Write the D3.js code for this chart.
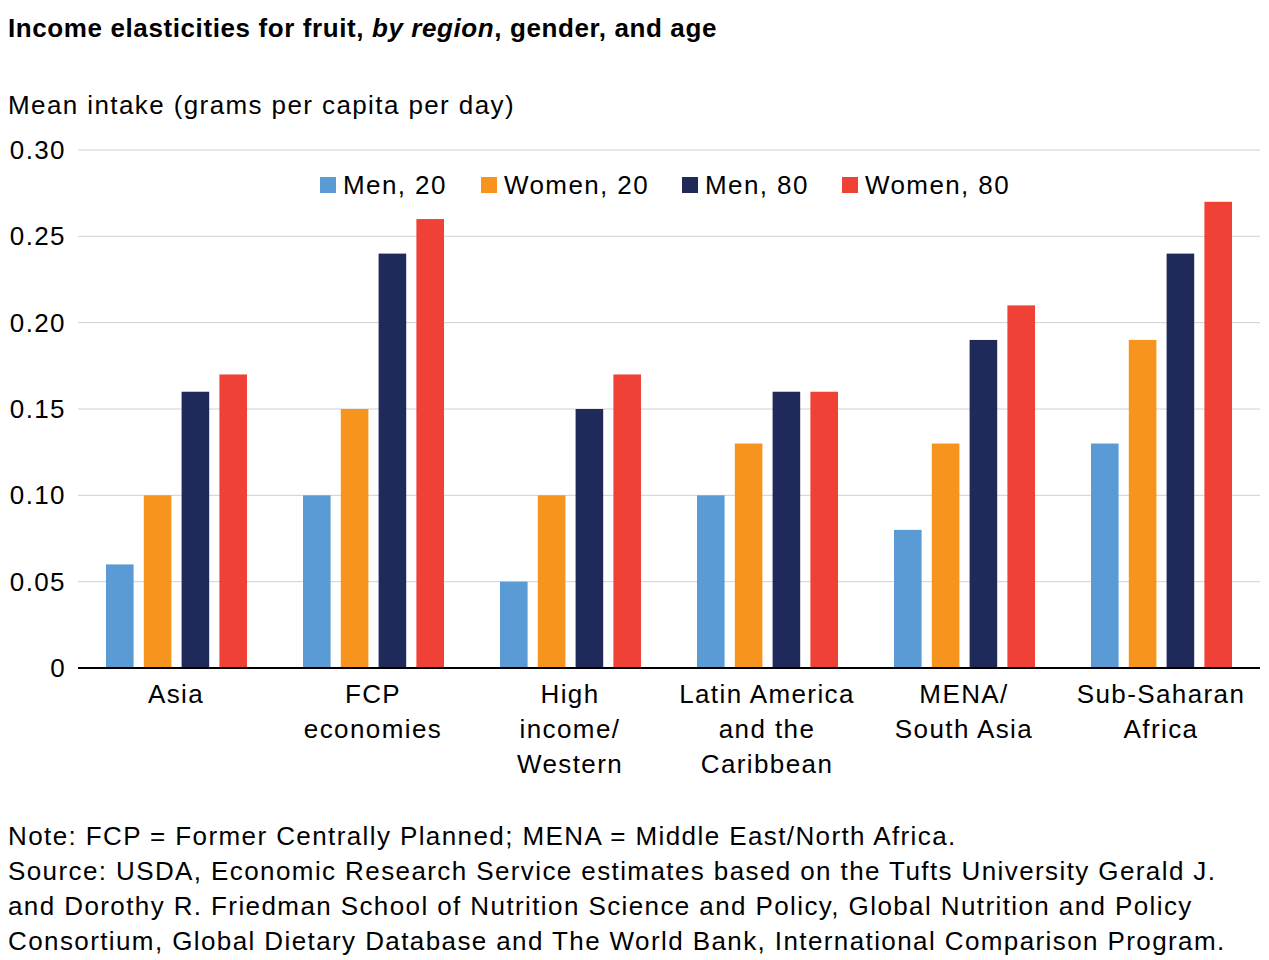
<!DOCTYPE html>
<html><head><meta charset="utf-8">
<script src="https://cdn.jsdelivr.net/npm/d3@7"></script>
<style>body{margin:0;background:#fff}svg{font-family:"Liberation Sans",Arial,sans-serif;letter-spacing:1.4px}</style>
</head><body><svg id="c" width="1269" height="960"></svg>
<script>
// chart data
var categories = [["Asia"], ["FCP", "economies"], ["High", "income/", "Western"],
  ["Latin America", "and the", "Caribbean"], ["MENA/", "South Asia"], ["Sub-Saharan", "Africa"]];
var seriesNames = ["Men, 20", "Women, 20", "Men, 80", "Women, 80"];
var colors = ["#5b9bd5", "#f7941d", "#1f2a5a", "#ef4136"];
var men20 = [0.06, 0.10, 0.05, 0.10, 0.08, 0.13];
var women20 = [0.10, 0.15, 0.10, 0.13, 0.13, 0.19];
var men80 = [0.16, 0.24, 0.15, 0.16, 0.19, 0.24];
var women80 = [0.17, 0.26, 0.17, 0.16, 0.21, 0.27];
var ticks = [0, 0.05, 0.10, 0.15, 0.20, 0.25, 0.30];
var notes = ["Note: FCP = Former Centrally Planned; MENA = Middle East/North Africa.",
  "Source: USDA, Economic Research Service estimates based on the Tufts University Gerald J.",
  "and Dorothy R. Friedman School of Nutrition Science and Policy, Global Nutrition and Policy",
  "Consortium, Global Dietary Database and The World Bank, International Comparison Program."];

var series = [men20, women20, men80, women80];
var svg = d3.select("#c");
var plotLeft = 78, plotRight = 1260, plotTop = 150, plotBottom = 668;

var x = d3.scaleBand().domain(d3.range(6)).range([plotLeft, plotRight]);
var xi = d3.scaleBand().domain(d3.range(4)).range([28, 169]).paddingInner(0.27);
var y = d3.scaleLinear().domain([0, 0.30]).range([plotBottom, plotTop]);

// title
var t = svg.append("text").attr("x", 8).attr("y", 37).attr("font-size", 26).attr("font-weight", "bold")
  .style("letter-spacing", "0.6px");
t.append("tspan").text("Income elasticities for fruit, ");
t.append("tspan").attr("font-style", "italic").text("by region");
t.append("tspan").text(", gender, and age");
svg.append("text").attr("x", 8).attr("y", 114).attr("font-size", 26).text("Mean intake (grams per capita per day)");

// grid + ticks
svg.selectAll(".g").data(ticks.slice(1)).enter().append("line")
  .attr("x1", plotLeft).attr("x2", plotRight).attr("y1", y).attr("y2", y).attr("stroke", "#d0d0d0");
svg.selectAll(".tk").data(ticks).enter().append("text")
  .attr("x", 66).attr("y", function(d){ return y(d) + 9; }).attr("text-anchor", "end").attr("font-size", 26)
  .text(function(d){ return d === 0 ? "0" : d3.format(".2f")(d); });

// bars
series.forEach(function(s, k){
  svg.selectAll(".b" + k).data(s).enter().append("rect")
    .attr("x", function(d, i){ return x(i) + xi(k); }).attr("width", xi.bandwidth())
    .attr("y", y).attr("height", function(d){ return plotBottom - y(d); }).attr("fill", colors[k]);
});
svg.append("line").attr("x1", plotLeft).attr("x2", plotRight).attr("y1", plotBottom).attr("y2", plotBottom)
  .attr("stroke", "#000").attr("stroke-width", 2);

// category labels
categories.forEach(function(lines, i){
  var tx = svg.append("text").attr("text-anchor", "middle").attr("font-size", 26);
  lines.forEach(function(l, j){
    tx.append("tspan").attr("x", x(i) + 98).attr("y", 703 + j * 35).text(l);
  });
});

// legend
var lx = [320, 481, 682, 842];
seriesNames.forEach(function(n, k){
  svg.append("rect").attr("x", lx[k]).attr("y", 177).attr("width", 16).attr("height", 16).attr("fill", colors[k]);
  svg.append("text").attr("x", lx[k] + 23).attr("y", 194).attr("font-size", 26).text(n);
});

// notes
notes.forEach(function(n, j){
  svg.append("text").attr("x", 8).attr("y", 845 + j * 35).attr("font-size", 26).text(n);
});
</script></body></html>
